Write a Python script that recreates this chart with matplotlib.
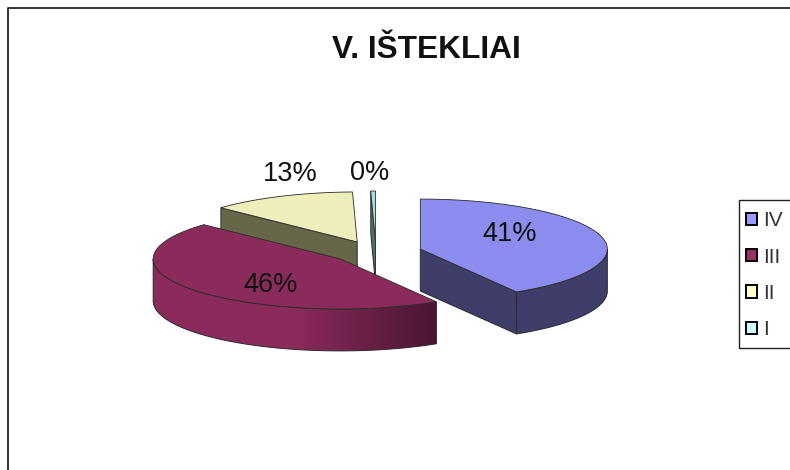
import numpy as np
import matplotlib
matplotlib.use('Agg')
import matplotlib.pyplot as plt
from matplotlib.colors import LinearSegmentedColormap
from matplotlib.patches import Polygon, Patch, Rectangle

plt.rcParams['font.family'] = ['Liberation Sans', 'DejaVu Sans']

title = 'V. IŠTEKLIAI'
categories = ['IV', 'III', 'II', 'I']
values = [41.4, 45.6, 12.6, 0.4]

top_colors = ['#8C8CEE', '#8B2B5C', '#EEEEBB', '#A5E0E0']
wall_colors = [('#3E3E6A', '#3E3E6A'), ('#8B2B5C', '#4A1533'), ('#666648', '#666648'), ('#4F7070', '#4F7070')]
legend_colors = ['#9999FF', '#993366', '#FFFFCC', '#CCFFFF']

## pie geometry in pixels
cx, cy = 376, 252
rx, ry = 187, 50
ex, ey = 46, 11
depth = 42
label_pos = [(510, 234), (271, 285), (290, 174), (370, 173)]
edge = '#2a2a2a'


def ell(x0, y0, t):
    t = np.radians(t)
    return np.column_stack([x0 + rx*np.sin(t), y0 - ry*np.cos(t)])


## side wall with a left to right colour ramp
def wall(ax, pts, colors, z):
    p = Polygon(pts, closed=True, facecolor='none', edgecolor=edge, lw=0.7, zorder=z+0.1)
    ax.add_patch(p)
    cmap = LinearSegmentedColormap.from_list('w', [colors[0], colors[0], colors[1]])
    x0, x1 = pts[:,0].min(), pts[:,0].max()
    y0, y1 = pts[:,1].min(), pts[:,1].max()
    im = ax.imshow(np.linspace(0, 1, 256).reshape(1, -1), cmap=cmap, extent=[x0, x1, y1, y0],
                   aspect='auto', zorder=z)
    im.set_clip_path(p)


def draw_slice(ax, i, a, b, z):
    mid = np.radians((a + b)/2)
    x0 = cx + ex*np.sin(mid)
    y0 = cy - ey*np.cos(mid)
    apex = np.array([[x0, y0]])
    down = np.array([0, depth])

    ## flat walls along the two cuts
    if np.sin(np.radians(b)) > 0.01:
        e = ell(x0, y0, np.array([b]))
        wall(ax, np.vstack([apex, e, e + down, apex + down]), wall_colors[i], z)
    if np.sin(np.radians(a)) < -0.01:
        e = ell(x0, y0, np.array([a]))
        wall(ax, np.vstack([apex, e, e + down, apex + down]), wall_colors[i], z)

    ## outer curved wall, only the front half shows
    lo, hi = max(a, 90), min(b, 270)
    if hi > lo:
        arc = ell(x0, y0, np.linspace(lo, hi, 80))
        wall(ax, np.vstack([arc, arc[::-1] + down]), wall_colors[i], z + 1)

    ## top face
    arc = ell(x0, y0, np.linspace(a, b, 120))
    ax.add_patch(Polygon(np.vstack([apex, arc]), closed=True, facecolor=top_colors[i],
                         edgecolor=edge, lw=0.6, zorder=z + 2))


fig = plt.figure(figsize=(7.9, 4.7), dpi=100)
ax = fig.add_axes([0, 0, 1, 1])

total = sum(values)
angles = np.cumsum([0] + values)/total*360

## back slices first, III sits in front of everything
for z, i in zip([10, 20, 30, 40], [0, 3, 2, 1]):
    draw_slice(ax, i, angles[i], angles[i+1], z)

for i, v in enumerate(values):
    ax.text(label_pos[i][0], label_pos[i][1], '%d%%' % round(v/total*100), fontsize=19.5,
            ha='center', va='center', color='#111111', zorder=60)

ax.text(426, 50, title, fontsize=22.8, fontweight='bold', ha='center', va='center', color='#111111')

## chart frame, cut off by the picture on the right and bottom
ax.plot([7.5, 7.5, 800], [480, 7.5, 7.5], color='#111111', lw=1.2, zorder=1)

## legend
ax.add_patch(Rectangle((738.5, 199.5), 70, 148, facecolor='white', edgecolor='#222222', lw=1, zorder=50))
handles = [Patch(facecolor=c, edgecolor='black', lw=1.4) for c in legend_colors]
ax.legend(handles, categories, loc='upper left', bbox_to_anchor=(737.5, 203), bbox_transform=ax.transData,
          frameon=False, fontsize=15, handlelength=0.53, handleheight=0.53, handletextpad=0.28,
          labelspacing=0.83, borderpad=0.4, borderaxespad=0, labelcolor='#333333').set_zorder(55)

ax.set_xlim(0, 790)
ax.set_ylim(470, 0)
ax.axis('off')
fig.savefig('out.png', dpi=100)
